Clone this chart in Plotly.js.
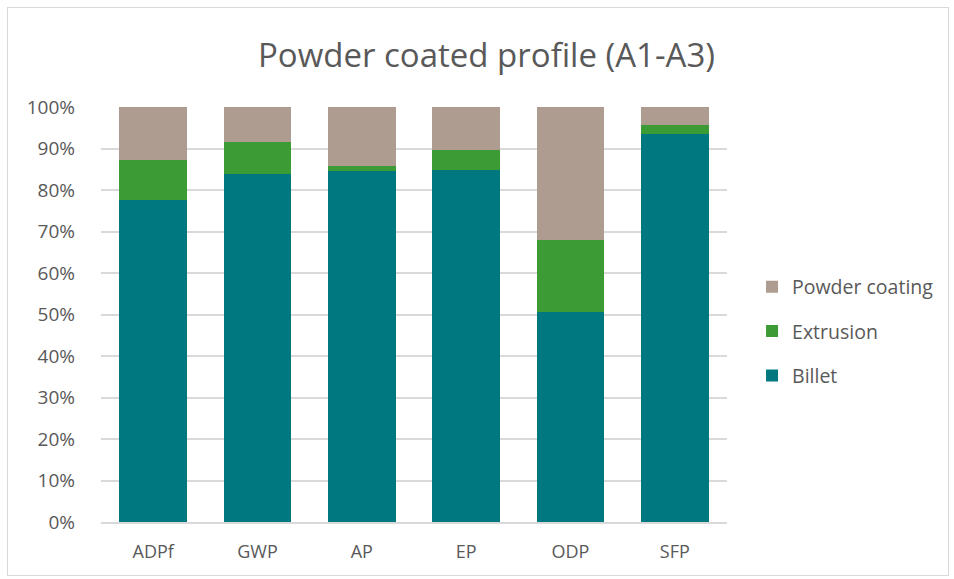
<!DOCTYPE html>
<html><head><meta charset="utf-8">
<script src="https://cdn.plot.ly/plotly-3.0.1.min.js"></script>
<style>html,body{margin:0;padding:0;background:#fff}#wrap{position:relative;width:954px;height:579px}#chart{width:954px;height:579px}#frame{position:absolute;left:7px;top:7px;width:942px;height:569px;border:1px solid #d9d9d9;pointer-events:none;box-sizing:border-box}</style>
</head><body><div id="wrap"><div id="chart"></div><div id="frame"></div></div>
<script>
const categories = ["ADPf","GWP","AP","EP","ODP","SFP"];
const billet = [77.6, 83.9, 84.6, 84.8, 50.6, 93.5];
const extrusion = [9.6, 7.7, 1.2, 4.8, 17.4, 2.2];
const powderCoating = [12.8, 8.4, 14.2, 10.4, 32.0, 4.3];
const tickVals = [0,10,20,30,40,50,60,70,80,90,100];
const tickText = tickVals.map(v => v + "%");

const font = "Open Sans, Noto Sans, sans-serif";
const traces = [
  {name:"Billet", x:categories, y:billet, type:"bar", marker:{color:"#00787F"}, legendgroup:"b", legendrank:3},
  {name:"Extrusion", x:categories, y:extrusion, type:"bar", marker:{color:"#3D9B35"}, legendgroup:"e", legendrank:2},
  {name:"Powder coating", x:categories, y:powderCoating, type:"bar", marker:{color:"#AD9C8F"}, legendgroup:"p", legendrank:1}
];
const layout = {
  width:954, height:579,
  margin:{l:101, r:227, t:107, b:57},
  barmode:"stack", bargap:0.35,
  paper_bgcolor:"#fff", plot_bgcolor:"#fff",
  font:{family:font, color:"#595959"},
  title:{text:"Powder coated profile (A1-A3)", font:{size:33, color:"#595959", family:font}, x:0.51, xanchor:"center", xref:"container", y:0.905, yref:"container", yanchor:"middle"},
  xaxis:{showgrid:false, showline:true, linecolor:"#d9d9d9", linewidth:1.5, tickfont:{size:18}, ticklabelstandoff:13},
  yaxis:{range:[0,100], tickvals:tickVals, ticktext:tickText, showgrid:true, gridcolor:"#d9d9d9", gridwidth:1.5, zeroline:false, tickfont:{size:19}, ticklabelstandoff:25},
  legend:{x:1.04, xanchor:"left", y:0.459, yanchor:"middle", traceorder:"grouped", tracegroupgap:16, font:{size:19.5}, itemwidth:30},
  showlegend:true
};
Plotly.newPlot("chart", traces, layout, {displayModeBar:false});
</script></body></html>
